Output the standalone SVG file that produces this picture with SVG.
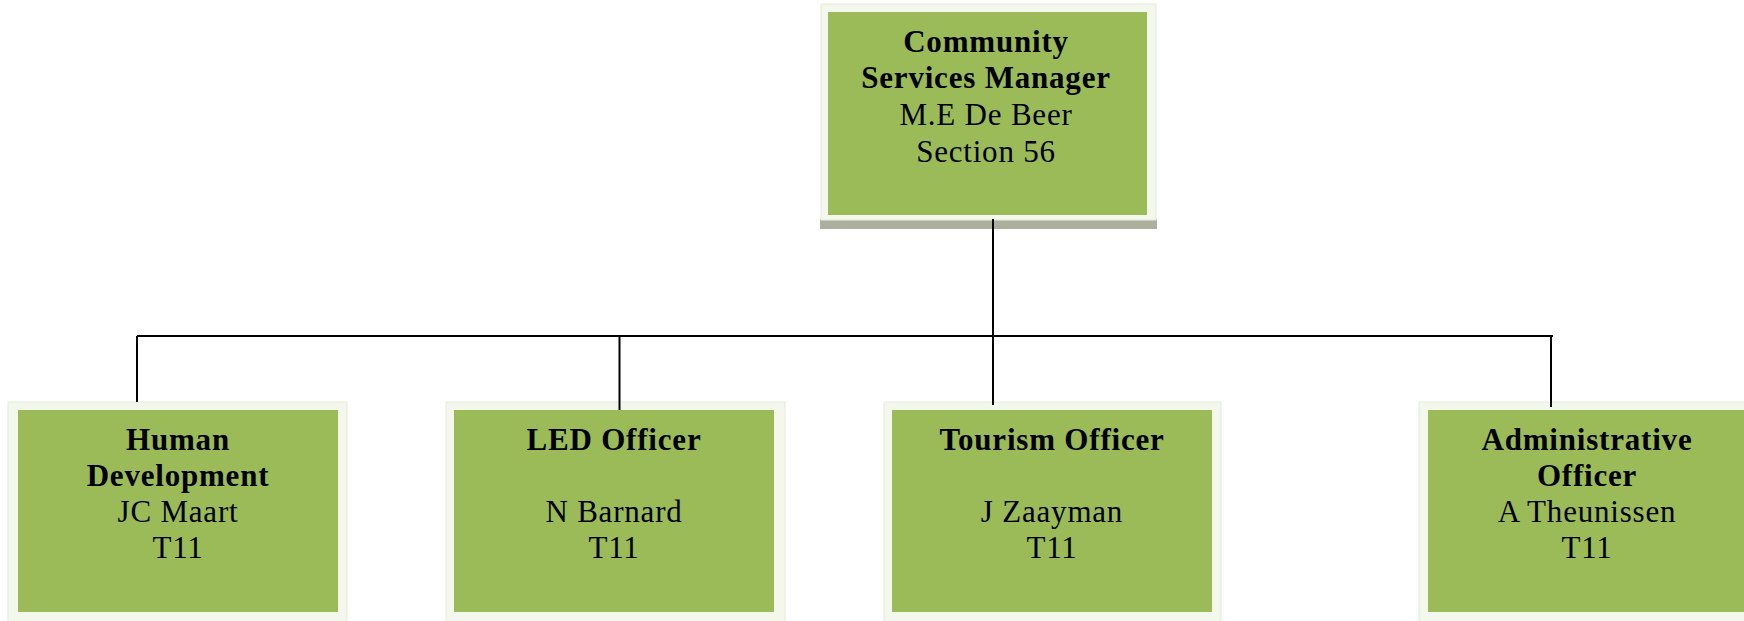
<svg xmlns="http://www.w3.org/2000/svg" width="1744" height="621" viewBox="0 0 1744 621">
<style>
.frame{fill:#F4F7EC;stroke:#E6EBDD;stroke-width:1}
.fill{fill:#9BBB59}
.t{font-family:"Liberation Serif","DejaVu Serif",serif;font-size:31px;letter-spacing:0.8px;fill:#000;text-anchor:middle}
.b{font-weight:bold}
.conn{stroke:#000;stroke-width:2;fill:none}
</style>
<rect width="1744" height="621" fill="#fff"/>
<g id="manager">
<rect x="820" y="219" width="337" height="10" fill="#AAB09C"/>
<rect class="frame" x="821" y="4" width="335" height="216"/>
<rect class="fill" x="828" y="12" width="319" height="203"/>
<text class="t b" x="986" y="52">Community</text>
<text class="t b" x="986" y="88">Services Manager</text>
<text class="t" x="986" y="125">M.E De Beer</text>
<text class="t" x="986" y="162">Section 56</text>
</g>
<g id="human-development">
<rect class="frame" x="8" y="402" width="339" height="222"/>
<rect class="fill" x="18" y="410" width="320" height="202"/>
<text class="t b" x="178" y="450">Human</text>
<text class="t b" x="178" y="486">Development</text>
<text class="t" x="178" y="522">JC Maart</text>
<text class="t" x="178" y="558">T11</text>
</g>
<g id="led-officer">
<rect class="frame" x="446" y="402" width="339" height="222"/>
<rect class="fill" x="454" y="410" width="320" height="202"/>
<text class="t b" x="614" y="450">LED Officer</text>
<text class="t" x="614" y="522">N Barnard</text>
<text class="t" x="614" y="558">T11</text>
</g>
<g id="tourism-officer">
<rect class="frame" x="884" y="402" width="337" height="222"/>
<rect class="fill" x="892" y="410" width="320" height="202"/>
<text class="t b" x="1052" y="450">Tourism Officer</text>
<text class="t" x="1052" y="522">J Zaayman</text>
<text class="t" x="1052" y="558">T11</text>
</g>
<g id="administrative-officer">
<rect class="frame" x="1419" y="402" width="340" height="222"/>
<rect class="fill" x="1428" y="410" width="320" height="202"/>
<text class="t b" x="1587" y="450">Administrative</text>
<text class="t b" x="1587" y="486">Officer</text>
<text class="t" x="1587" y="522">A Theunissen</text>
<text class="t" x="1587" y="558">T11</text>
</g>
<g id="connectors">
<line class="conn" x1="993" y1="219" x2="993" y2="405"/>
<line class="conn" x1="137" y1="336" x2="1553" y2="336"/>
<line class="conn" x1="137" y1="336" x2="137" y2="402"/>
<line class="conn" x1="619.5" y1="336" x2="619.5" y2="410"/>
<line class="conn" x1="1551" y1="336" x2="1551" y2="407"/>
</g>
</svg>
